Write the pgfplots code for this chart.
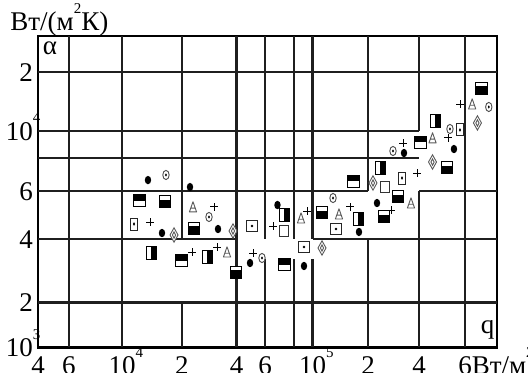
\documentclass[border=0pt]{standalone}
\usepackage{pgfplots}
\pgfplotsset{compat=1.18}
\usepackage{fontspec}
\setmainfont{Liberation Serif}

% small superscript that does not take width
\newcommand\sups[1]{\rlap{\raisebox{8.8pt}{\fontsize{7.5}{8}\selectfont #1}}}
\newcommand\supw[1]{\raisebox{8.8pt}{\fontsize{7.5}{8}\selectfont #1}}

% piecewise log-linear axis mappings (the printed grid is not a perfect log scale)
\def\S#1#2#3{+#1*min(max(\L-#2,0),#3)}
\def\xtrafo#1{%
  \begingroup
  \pgfkeys{/pgf/fpu=true,/pgf/fpu/output format=fixed}%
  \pgfmathparse{ln(#1)*0.4342944819}\let\L\pgfmathresult
  \pgfmathparse{0\S{176.05}{3.60206}{0.17609}\S{238.90}{3.77815}{0.22185}%
    \S{199.32}{4}{0.30103}\S{181.05}{4.30103}{0.30103}\S{161.85}{4.60206}{0.17609}%
    \S{232.11}{4.77815}{0.12494}\S{190.90}{4.90309}{0.09691}\S{184.37}{5}{0.30103}%
    \S{169.42}{5.30103}{0.30103}\S{261.23}{5.60206}{0.17609}\S{256.12}{5.77815}{0.12494}}%
  \xdef\trafores{\pgfmathresult}%
  \endgroup
  \let\pgfmathresult\trafores}
\def\ytrafo#1{%
  \begingroup
  \pgfkeys{/pgf/fpu=true,/pgf/fpu/output format=fixed}%
  \pgfmathparse{ln(#1)*0.4342944819}\let\L\pgfmathresult
  \pgfmathparse{0\S{149.49}{3}{0.30103}\S{210.94}{3.30103}{0.30103}%
    \S{272.59}{3.60206}{0.17609}\S{264.13}{3.77815}{0.12494}\S{278.61}{3.90309}{0.09691}%
    \S{195.99}{4}{0.30103}\S{204.44}{4.30103}{0.17609}}%
  \xdef\trafores{\pgfmathresult}%
  \endgroup
  \let\pgfmathresult\trafores}

% plot marks
\pgfdeclareplotmark{HT}{% square, upper part black
  \pgfsetlinewidth{0.5pt}\pgfsetstrokecolor{black}%
  \pgfpathrectangle{\pgfpoint{-3pt}{-3pt}}{\pgfpoint{6pt}{6pt}}%
  \pgfsetfillcolor{white}\pgfusepath{fill,stroke}%
  \pgfpathrectangle{\pgfpoint{-3pt}{0.2pt}}{\pgfpoint{6pt}{2.8pt}}%
  \pgfsetfillcolor{black}\pgfusepath{fill,stroke}}
\pgfdeclareplotmark{HB}{% square, lower part black
  \pgfsetlinewidth{0.5pt}\pgfsetstrokecolor{black}%
  \pgfpathrectangle{\pgfpoint{-2.9pt}{-3pt}}{\pgfpoint{5.8pt}{6pt}}%
  \pgfsetfillcolor{white}\pgfusepath{fill,stroke}%
  \pgfpathrectangle{\pgfpoint{-2.9pt}{-3pt}}{\pgfpoint{5.8pt}{3.8pt}}%
  \pgfsetfillcolor{black}\pgfusepath{fill,stroke}}
\pgfdeclareplotmark{VH}{% rectangle, right half black
  \pgfsetlinewidth{0.5pt}\pgfsetstrokecolor{black}%
  \pgfpathrectangle{\pgfpoint{-2.5pt}{-3.3pt}}{\pgfpoint{5pt}{6.6pt}}%
  \pgfsetfillcolor{white}\pgfusepath{fill,stroke}%
  \pgfpathrectangle{\pgfpoint{0pt}{-3.3pt}}{\pgfpoint{2.5pt}{6.6pt}}%
  \pgfsetfillcolor{black}\pgfusepath{fill,stroke}}
\pgfdeclareplotmark{OS}{% open rectangle
  \pgfsetlinewidth{0.5pt}\pgfsetstrokecolor{black!80}%
  \pgfpathrectangle{\pgfpoint{-2.1pt}{-2.6pt}}{\pgfpoint{4.2pt}{5.2pt}}%
  \pgfsetfillcolor{white}\pgfusepath{fill,stroke}}
\pgfdeclareplotmark{SD}{% square with dot
  \pgfsetlinewidth{0.5pt}\pgfsetstrokecolor{black!85}%
  \pgfpathrectangle{\pgfpoint{-2.8pt}{-2.8pt}}{\pgfpoint{5.6pt}{5.6pt}}%
  \pgfsetfillcolor{white}\pgfusepath{fill,stroke}%
  \pgfpathcircle{\pgfpointorigin}{0.7pt}%
  \pgfsetfillcolor{black}\pgfusepath{fill}}
\pgfdeclareplotmark{RD}{% tall rectangle with dot
  \pgfsetlinewidth{0.5pt}\pgfsetstrokecolor{black!85}%
  \pgfpathrectangle{\pgfpoint{-1.8pt}{-3pt}}{\pgfpoint{3.6pt}{6pt}}%
  \pgfsetfillcolor{white}\pgfusepath{fill,stroke}%
  \pgfpathellipse{\pgfpointorigin}{\pgfpoint{0.55pt}{0pt}}{\pgfpoint{0pt}{0.9pt}}%
  \pgfsetfillcolor{black}\pgfusepath{fill}}
\pgfdeclareplotmark{FC}{% filled ellipse
  \pgfpathellipse{\pgfpointorigin}{\pgfpoint{1.6pt}{0pt}}{\pgfpoint{0pt}{2.1pt}}%
  \pgfsetfillcolor{black}\pgfusepath{fill}}
\pgfdeclareplotmark{CD}{% ring with dot
  \pgfsetlinewidth{0.45pt}\pgfsetstrokecolor{black!70}%
  \pgfpathellipse{\pgfpointorigin}{\pgfpoint{1.6pt}{0pt}}{\pgfpoint{0pt}{2.3pt}}%
  \pgfsetfillcolor{white}\pgfusepath{fill,stroke}%
  \pgfpathellipse{\pgfpointorigin}{\pgfpoint{0.5pt}{0pt}}{\pgfpoint{0pt}{0.8pt}}%
  \pgfsetfillcolor{black}\pgfusepath{fill}}
\pgfdeclareplotmark{PL}{% plus
  \pgfsetlinewidth{0.45pt}\pgfsetstrokecolor{black}%
  \pgfpathmoveto{\pgfpoint{-1.9pt}{0pt}}\pgfpathlineto{\pgfpoint{1.9pt}{0pt}}%
  \pgfpathmoveto{\pgfpoint{0pt}{-1.9pt}}\pgfpathlineto{\pgfpoint{0pt}{1.9pt}}%
  \pgfusepath{stroke}}
\pgfdeclareplotmark{TR}{% triangle with crossbar
  \pgfsetlinewidth{0.45pt}\pgfsetstrokecolor{black!65}\pgfsetroundjoin
  \pgfpathmoveto{\pgfpoint{-1.8pt}{-2.5pt}}\pgfpathlineto{\pgfpoint{0pt}{2.6pt}}%
  \pgfpathlineto{\pgfpoint{1.8pt}{-2.5pt}}\pgfpathclose
  \pgfpathmoveto{\pgfpoint{-0.9pt}{-0.6pt}}\pgfpathlineto{\pgfpoint{0.9pt}{-0.6pt}}%
  \pgfsetfillcolor{white}\pgfusepath{fill,stroke}}
\pgfdeclareplotmark{DM}{% diamond with inner diamond
  \pgfsetlinewidth{0.45pt}\pgfsetstrokecolor{black!65}%
  \pgfpathmoveto{\pgfpoint{0pt}{3.6pt}}\pgfpathlineto{\pgfpoint{2pt}{0pt}}%
  \pgfpathlineto{\pgfpoint{0pt}{-3.6pt}}\pgfpathlineto{\pgfpoint{-2pt}{0pt}}\pgfpathclose
  \pgfsetfillcolor{white}\pgfusepath{fill,stroke}%
  \pgfpathmoveto{\pgfpoint{0pt}{1.6pt}}\pgfpathlineto{\pgfpoint{0.8pt}{0pt}}%
  \pgfpathlineto{\pgfpoint{0pt}{-1.6pt}}\pgfpathlineto{\pgfpoint{-0.8pt}{0pt}}\pgfpathclose
  \pgfusepath{stroke}}

\pgfplotsset{gl/.style={line width=1.1pt, black!88, forget plot, mark=none}}

\begin{document}
\begin{tikzpicture}
\begin{axis}[
  at={(0,0)}, anchor=south west,
  x=0.5pt, y=0.5pt,
  x coord trafo/.code={\xtrafo{#1}},
  y coord trafo/.code={\ytrafo{#1}},
  xmin=4000, xmax=800000, ymin=1000, ymax=30000,
  xtick={4000,6000,10000,20000,40000,60000,100000,200000,400000,600000},
  xticklabels={4,6,10\sups{4},2,4,6,10\sups{5},2,4,6\rlap{Вт/м\supw{2}}},
  ytick={1000,2000,4000,6000,10000,20000},
  yticklabels={10\sups{3},2,4,6,10\sups{4},2},
  major tick length=0pt,
  tick label style={font=\fontsize{13.5}{16}\selectfont, inner sep=0pt},
  xticklabel style={anchor=base, yshift=-13.6pt},
  yticklabel style={anchor=base east, xshift=-2.4pt, yshift=-4.6pt},
  axis line style={line width=1.1pt, black},
  clip=false,
]
% grid (partly interrupted, as in the original)
\addplot[gl] coordinates {(4000,2000) (800000,2000)};
\addplot[gl] coordinates {(4000,4000) (40000,4000)};
\addplot[gl] coordinates {(100000,4000) (800000,4000)};
\addplot[gl] coordinates {(4000,6000) (200000,6000)};
\addplot[gl] coordinates {(400000,6000) (800000,6000)};
\addplot[gl] coordinates {(4000,8000) (400000,8000)};
\addplot[gl] coordinates {(4000,10000) (400000,10000)};
\addplot[gl] coordinates {(4000,20000) (800000,20000)};
\addplot[gl] coordinates {(6000,1000) (6000,30000)};
\addplot[gl] coordinates {(10000,1000) (10000,30000)};
\addplot[gl] coordinates {(20000,1000) (20000,2000)};
\addplot[gl] coordinates {(20000,4000) (20000,30000)};
\addplot[gl] coordinates {(40000,1000) (40000,30000)};
\addplot[gl] coordinates {(60000,1000) (60000,3200)};
\addplot[gl] coordinates {(60000,4000) (60000,30000)};
\addplot[gl] coordinates {(80000,1000) (80000,3200)};
\addplot[gl] coordinates {(80000,4000) (80000,30000)};
\addplot[gl] coordinates {(100000,1000) (100000,3200)};
\addplot[gl] coordinates {(100000,4000) (100000,30000)};
\addplot[gl] coordinates {(200000,1000) (200000,4000)};
\addplot[gl] coordinates {(200000,6000) (200000,30000)};
\addplot[gl] coordinates {(400000,1000) (400000,6000)};
\addplot[gl] coordinates {(400000,10000) (400000,30000)};
\addplot[gl] coordinates {(600000,1000) (600000,30000)};

% data
\addplot[only marks, mark=HT] coordinates {(12170,5517) (19900,3147) (73130,3012) (167900,6546) (407000,9128)};
\addplot[only marks, mark=HB] coordinates {(16440,5470) (23300,4388) (39740,2774) (112600,4985) (300700,5705) (248600,4817) (696000,16570) (512000,7333)};
\addplot[only marks, mark=VH] coordinates {(14140,3434) (27490,3287) (73130,4899) (178700,4735) (235400,7333) (464600,11240)};
\addplot[only marks, mark=OS] coordinates {(72400,4280) (252000,6210)};
\addplot[only marks, mark=SD] coordinates {(49870,4463) (90250,3665) (134100,4352)};
\addplot[only marks, mark=RD] coordinates {(11490,4540) (317500,6720) (574000,10120)};
\addplot[only marks, mark=FC] coordinates {(13500,6600) (22140,6210) (15870,4207) (31620,4352) (67900,5330) (48490,3078) (90250,2979) (178700,4245) (226000,5420) (326200,8336) (544300,8615)};
\addplot[only marks, mark=CD] coordinates {(16620,6900) (28190,4817) (57500,3251) (129200,5655) (280900,8476) (525500,10240) (743000,13260)};
\addplot[only marks, mark=PL] coordinates {(30040,5245) (13820,4617) (64970,4463) (22710,3470) (31210,3665) (50620,3434) (93600,5068) (159700,5245) (273400,5108) (389200,7020) (321800,9058) (574000,13730) (516500,9442)};
\addplot[only marks, mark=TR] coordinates {(23000,5245) (35460,3470) (87080,4775) (139200,4942) (358700,5420) (450600,9442) (640000,13730)};
\addplot[only marks, mark=DM] coordinates {(18240,4137) (38260,4280) (112600,3626) (214000,6434) (450600,7725) (671000,10990)};
\end{axis}
\node[anchor=base west, inner sep=0pt, font=\fontsize{13.5}{16}\selectfont] at (-14pt,158.3pt) {Вт/(м\supw{2}К)};
\node[inner sep=0pt, font=\fontsize{13.5}{16}\selectfont] at (6pt,149.8pt) {α};
\node[inner sep=0pt, font=\fontsize{13.5}{16}\selectfont] at (224.8pt,9pt) {q};
\pgfresetboundingbox
\path[use as bounding box] (-19pt,-12.75pt) rectangle (245pt,173.75pt);
\end{tikzpicture}
\end{document}
